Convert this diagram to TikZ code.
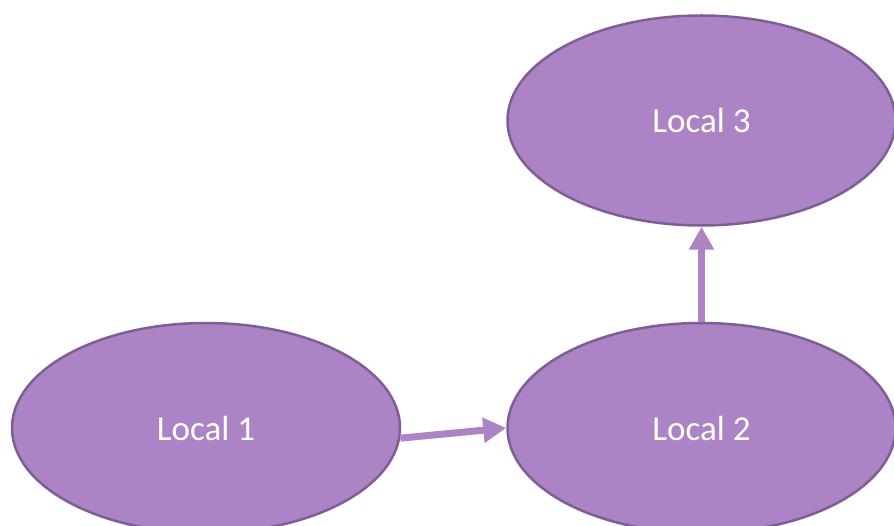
\documentclass[tikz,border=0pt]{standalone}
\usepackage{fontspec}
\setmainfont{Carlito}
\usetikzlibrary{shapes.geometric,arrows.meta,positioning}

\definecolor{localfill}{HTML}{AC83C4}
\definecolor{localline}{HTML}{7E5E96}

\tikzset{
    localnode/.style={ellipse, draw=localline, line width=2.5pt, fill=localfill,
        minimum width=388pt, minimum height=210pt, text=white,
        font=\fontsize{35}{42}\selectfont},
    flow/.style={draw=localfill, line width=7pt,
        -{Triangle[length=23pt,width=24pt]}}
}

\begin{document}
\begin{tikzpicture}[x=1pt,y=1pt]
            \useasboundingbox (0,0) rectangle (894,525);
            \node[localnode] (a) at (206,97) {Local 1};
            \node[localnode, right=105pt of a] (b) {Local 2};
            \node[localnode, above=95pt of b] (c) {Local 3};

            \draw[flow] (a.-3) -- (b.west);
            \draw[flow] (b.north) -- (c.south);
        \end{tikzpicture}
\end{document}
